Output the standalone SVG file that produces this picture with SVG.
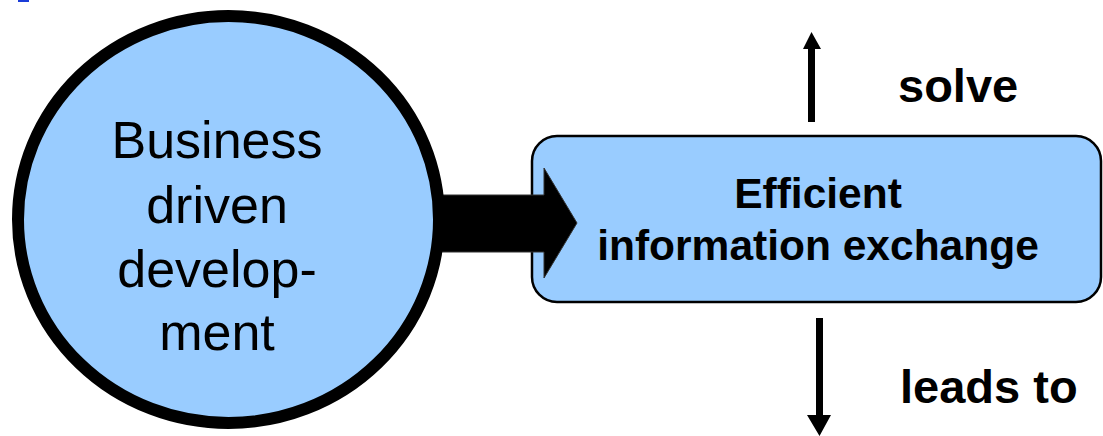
<svg xmlns="http://www.w3.org/2000/svg" width="1103" height="436" viewBox="0 0 1103 436">
<style>
.fill{fill:#99ccff}
.reg{font-family:"Liberation Sans",Arial,sans-serif;font-size:52px;fill:#000;text-anchor:middle}
.bold{font-family:"Liberation Sans",Arial,sans-serif;font-weight:bold;fill:#000}
</style>
<rect x="18" y="0" width="11" height="2" fill="#1a3cd8"/>
<g id="box">
<rect class="fill" x="532" y="136" width="569" height="166" rx="25" ry="25" stroke="#000" stroke-width="2.5"/>
<text class="bold" x="818" y="208" font-size="42.5" text-anchor="middle">Efficient</text>
<text class="bold" x="818" y="260" font-size="42.5" text-anchor="middle">information exchange</text>
</g>
<g id="connectors">
<path d="M435,195 H544 V168 L577,223 L544,278 V252 H435 Z" fill="#000" stroke="#333" stroke-width="1"/>
<path d="M808,122 V49 H803 L811.5,32 L821,49 H815 V122 Z" fill="#000"/>
<path d="M816,318 V415 H807 L819.5,436 L831,415 H823 V318 Z" fill="#000"/>
</g>
<g id="circle">
<ellipse class="fill" cx="228.5" cy="219.5" rx="210.5" ry="203.5" stroke="#000" stroke-width="12"/>
<text class="reg" x="217" y="158">Business</text>
<text class="reg" x="217" y="223">driven</text>
<text class="reg" x="217" y="287">develop-</text>
<text class="reg" x="217" y="350">ment</text>
</g>
<g id="labels">
<text class="bold" x="898" y="102" font-size="47">solve</text>
<text class="bold" x="900" y="403" font-size="47">leads to</text>
</g>
</svg>
